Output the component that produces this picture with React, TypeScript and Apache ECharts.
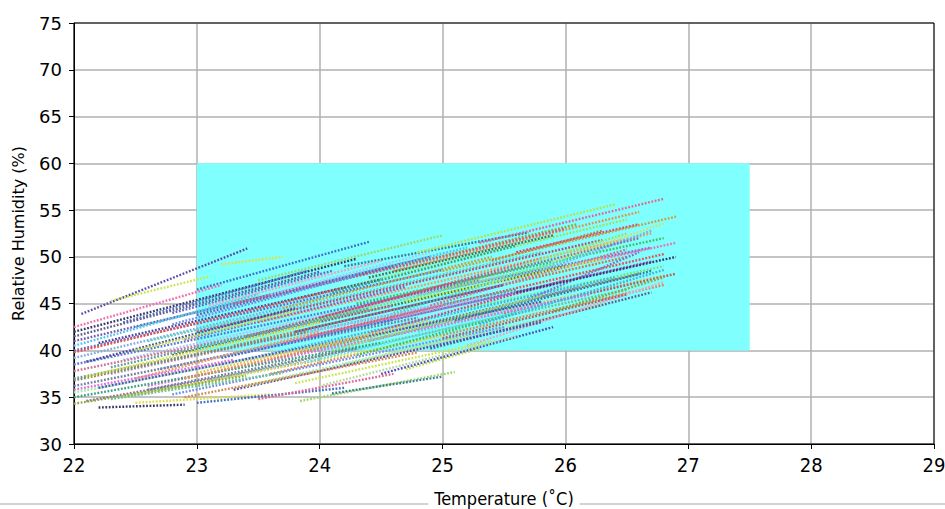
import React, { useEffect, useRef } from "react";
import * as echarts from "echarts";

// Comfort-zone rectangle (temperature °C, relative humidity %)
const zoneT = [23, 27.5];
const zoneH = [40, 60];

// Axis ranges
const xTicks = [22, 23, 24, 25, 26, 27, 28, 29];
const yTicks = [30, 35, 40, 45, 50, 55, 60, 65, 70, 75];

// Trajectories: start temperature / humidity, end temperature / humidity
const startT = [
  22.06, 22.3, 22.0, 23.2, 23.0, 23.5, 24.2, 24.8, 25.3, 24.0,
  24.6, 25.6, 22.0, 22.5, 23.3, 23.8, 25.0, 22.0, 22.0, 22.2,
  22.6, 23.0, 23.5, 24.3, 24.8, 25.5, 22.0, 22.4, 22.8, 23.3,
  23.9, 24.5, 25.2, 22.0, 22.0, 22.3, 22.7, 23.2, 23.6, 24.2,
  24.8, 25.5, 22.0, 22.0, 22.2, 22.6, 23.1, 23.6, 24.2, 24.9,
  25.2, 22.0, 22.1, 22.4, 22.8, 23.3, 23.8, 22.2, 22.5, 23.0,
  23.84, 24.1, 24.7, 23.5, 22.0, 22.9, 24.4, 23.0, 22.0, 24.0,
  25.0, 23.7, 22.8, 25.8, 22.1, 24.6, 23.4, 22.5, 24.3, 25.7,
  22.0, 22.4, 23.6, 24.4, 25.4, 22.0, 22.9, 23.9, 24.9, 22.3,
  23.4, 24.4, 25.3, 22.0, 23.0, 23.9, 25.0, 22.6, 23.4, 24.5,
  22.0, 22.3, 22.9, 24.0, 22.0, 23.1, 24.1, 25.1, 25.9, 22.8,
  23.8, 24.7, 25.6, 22.1, 23.2, 24.1, 25.1, 22.5, 23.7, 25.9,
];
const startH = [
  43.9, 45.3, 42.0, 49.2, 46.5, 47.5, 49.0, 50.5, 51.5, 47.0,
  48.5, 50.5, 41.0, 42.5, 45.0, 45.5, 48.5, 40.0, 39.2, 40.8,
  41.0, 42.0, 43.0, 45.0, 46.0, 47.5, 38.5, 39.0, 39.5, 40.5,
  41.5, 43.0, 44.5, 37.8, 37.0, 37.5, 38.0, 38.5, 39.0, 40.5,
  42.0, 44.0, 36.2, 35.5, 36.0, 36.2, 36.8, 37.5, 38.5, 40.2,
  40.5, 35.0, 34.6, 35.0, 35.3, 35.8, 36.5, 33.9, 34.4, 34.4,
  34.6, 35.4, 38.0, 34.8, 34.3, 37.0, 41.8, 43.8, 40.5, 43.5,
  46.5, 44.5, 44.0, 48.5, 38.8, 44.0, 41.5, 37.0, 39.5, 45.5,
  42.5, 43.0, 46.0, 47.8, 49.6, 39.8, 41.2, 43.0, 44.8, 38.2,
  39.8, 41.0, 42.8, 36.8, 37.6, 38.8, 41.3, 35.8, 36.2, 37.5,
  35.8, 34.8, 35.0, 36.2, 41.5, 44.8, 46.2, 47.2, 49.5, 42.8,
  42.0, 45.2, 46.2, 37.2, 39.2, 40.0, 43.2, 40.0, 40.8, 44.2,
];
const endT = [
  23.41, 23.1, 24.3, 23.7, 24.4, 25.0, 25.7, 26.4, 26.8, 26.1,
  26.6, 26.6, 24.9, 25.2, 26.0, 26.5, 26.9, 25.0, 24.0, 24.5,
  25.8, 26.3, 26.7, 26.8, 26.7, 26.9, 25.3, 25.5, 26.0, 26.5,
  26.8, 26.7, 26.8, 24.6, 25.6, 25.0, 25.9, 26.4, 26.6, 26.8,
  26.6, 26.9, 24.8, 25.2, 25.8, 26.2, 26.5, 26.8, 26.3, 26.7,
  26.8, 24.5, 24.0, 25.0, 25.5, 25.8, 25.4, 22.9, 23.6, 24.2,
  25.1, 25.0, 25.3, 24.6, 23.4, 24.4, 26.0, 24.6, 23.5, 25.8,
  26.5, 25.4, 24.1, 26.7, 23.8, 26.2, 25.1, 24.0, 25.6, 26.6,
  23.2, 23.9, 24.9, 25.9, 26.3, 24.2, 24.7, 25.9, 26.5, 24.4,
  25.3, 26.1, 26.8, 23.9, 24.9, 25.7, 26.5, 24.3, 25.2, 25.9,
  23.3, 23.7, 24.8, 25.6, 24.0, 24.5, 25.6, 26.6, 26.8, 24.3,
  25.5, 26.3, 26.9, 24.0, 24.6, 25.8, 26.7, 23.8, 25.0, 26.8,
];
const endH = [
  50.9, 47.9, 49.8, 50.0, 51.6, 52.3, 52.6, 55.6, 56.2, 53.5,
  54.8, 53.5, 50.0, 51.0, 53.0, 54.0, 54.3, 48.6, 45.5, 47.6,
  50.5, 51.8, 52.5, 52.0, 51.0, 51.5, 47.5, 48.0, 49.0, 50.0,
  50.3, 49.5, 49.0, 44.8, 46.5, 45.0, 47.0, 47.8, 48.2, 48.0,
  47.3, 48.2, 43.5, 43.5, 45.2, 46.0, 46.5, 47.0, 44.8, 46.2,
  47.3, 40.8, 39.0, 41.5, 42.5, 43.0, 41.0, 34.2, 35.3, 36.0,
  37.7, 37.2, 40.2, 37.5, 37.3, 41.5, 47.5, 49.0, 46.0, 49.8,
  52.5, 50.0, 48.5, 52.8, 44.5, 50.5, 47.2, 42.0, 44.0, 50.5,
  47.0, 48.5, 50.5, 52.3, 52.8, 46.7, 46.8, 49.2, 50.8, 44.5,
  45.6, 46.7, 48.6, 42.0, 43.2, 44.4, 46.0, 40.2, 41.6, 42.5,
  39.0, 37.6, 39.8, 41.5, 48.4, 49.6, 51.2, 52.0, 53.6, 48.0,
  47.0, 49.8, 50.0, 43.0, 43.3, 45.8, 48.5, 44.2, 44.8, 47.8,
];

// Line colours (styling palette)
const palette = [
  "#5a4fa8", "#c8e850", "#3a3a6a", "#e0e040", "#4070c8", "#9ad86a", "#3c7a9a", "#b8e048",
  "#e06898", "#90a840", "#e89048", "#d8407a", "#7a5ab0", "#50c8e8", "#e05878", "#a0e060",
  "#c8a040", "#6868c8", "#80b0e0", "#4848a0", "#60d0c0", "#c04870", "#e8a060", "#40c060",
  "#8a70c8", "#f070b0", "#5878d0", "#a8c8f0", "#507048", "#c87848", "#e85050", "#a050c0",
  "#78e078", "#d07090", "#60a0a0", "#b0b0f0", "#8888c8", "#48b0e0", "#908060", "#e0c060",
  "#60e0f0", "#c05858", "#7080a0", "#a0f0a0", "#5050c0", "#e070e0", "#70c090", "#d88850",
  "#b8d8a0", "#606090", "#f0a0c0", "#40a080", "#9070a0", "#d0e070", "#7090f0",
];

export default function App() {
  const ref = useRef<HTMLDivElement>(null);

  useEffect(() => {
    document.body.style.margin = "0";
    if (!ref.current) return;
    const chart = echarts.init(ref.current, undefined, { renderer: "svg" });

    const lineSeries = startT.map((t, i) => ({
      type: "line",
      data: [
        [t, startH[i]],
        [endT[i], endH[i]],
      ],
      symbol: "none",
      showSymbol: false,
      silent: true,
      z: 3,
      lineStyle: { color: palette[i % palette.length], width: 2.4, type: [1.8, 1.6] },
    }));

    const font = "DejaVu Sans";
    const condensed = "DejaVu Sans Condensed";

    chart.setOption({
      animation: false,
      grid: {
        left: 74,
        right: 11,
        top: 23,
        bottom: 65,
        outerBoundsMode: "none",
        containLabel: false,
        show: true,
        borderColor: "#000",
        borderWidth: 1,
        backgroundColor: "transparent",
        z: 2,
      },
      graphic: [
        {
          type: "line",
          shape: { x1: 0, y1: 504, x2: 945, y2: 504 },
          style: { stroke: "#c4c4c4", lineWidth: 1.5 },
          z: 0,
        },
      ],
      xAxis: {
        type: "value",
        min: xTicks[0],
        max: xTicks[xTicks.length - 1],
        interval: 1,
        z: 1,
        name: "Temperature (˚C)",
        nameLocation: "middle",
        nameGap: 44,
        nameTextStyle: {
          fontFamily: condensed,
          fontSize: 18,
          color: "#000",
          backgroundColor: "#fff",
          padding: [1, 6, 3, 6],
        },
        axisLine: { show: true, lineStyle: { color: "#000", width: 1 } },
        axisTick: { show: true, length: 5, lineStyle: { color: "#000" } },
        axisLabel: { fontFamily: condensed, fontSize: 20, color: "#000", margin: 11 },
        splitLine: { show: true, lineStyle: { color: "#b0b0b0", width: 1.5 } },
      },
      yAxis: {
        type: "value",
        min: yTicks[0],
        max: yTicks[yTicks.length - 1],
        interval: 5,
        z: 1,
        name: "Relative Humidity (%)",
        nameLocation: "middle",
        nameGap: 48,
        nameTextStyle: { fontFamily: font, fontSize: 16, color: "#000" },
        axisLine: { show: true, lineStyle: { color: "#000", width: 1 } },
        axisTick: { show: true, length: 5, lineStyle: { color: "#000" } },
        axisLabel: { fontFamily: font, fontSize: 18, color: "#000", margin: 12 },
        splitLine: { show: true, lineStyle: { color: "#b0b0b0", width: 1.5 } },
      },
      series: [
        {
          type: "line",
          data: [[zoneT[0], zoneH[0]]],
          symbol: "none",
          silent: true,
          z: 0,
          lineStyle: { opacity: 0 },
          markArea: {
            silent: true,
            itemStyle: { color: "#80ffff", opacity: 1 },
            data: [[{ coord: [zoneT[0], zoneH[0]] }, { coord: [zoneT[1], zoneH[1]] }]],
          },
        },
        ...lineSeries,
      ],
    });

    return () => chart.dispose();
  }, []);

  return <div ref={ref} style={{ width: 945, height: 509 }} />;
}
